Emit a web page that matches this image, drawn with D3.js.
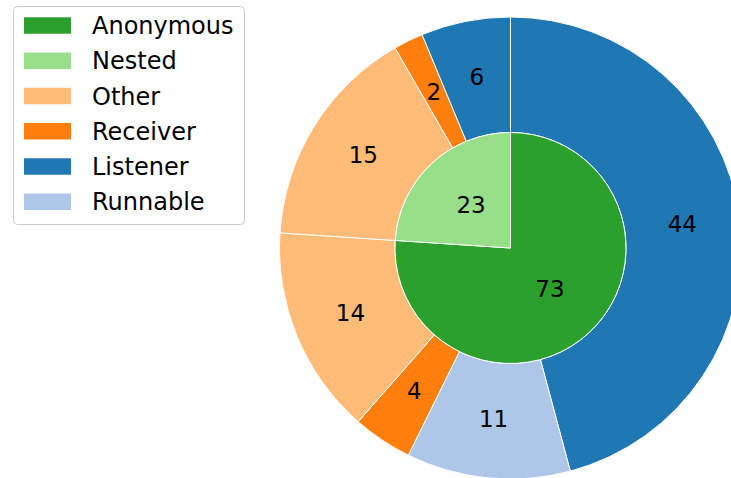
<!DOCTYPE html>
<html>
<head>
<meta charset="utf-8">
<script src="https://cdn.jsdelivr.net/npm/d3@7"></script>
<style>
html,body{margin:0;padding:0;background:#fff;}
svg{display:block;font-family:"DejaVu Sans",sans-serif;}
</style>
</head>
<body>
<svg id="chart" width="731" height="478"></svg>
<script>
const innerCategories = ["Anonymous", "Nested"];
const innerValues = [73, 23];
const outerCategories = ["Listener", "Runnable", "Receiver", "Other", "Other", "Receiver", "Listener"];
const outerValues = [44, 11, 4, 14, 15, 2, 6];
const legendLabels = ["Anonymous", "Nested", "Other", "Receiver", "Listener", "Runnable"];
const legendColors = ["#2ca02c", "#98df8a", "#ffbb78", "#ff7f0e", "#1f77b4", "#aec7e8"];

const color = d3.scaleOrdinal().domain(legendLabels).range(legendColors);

const svg = d3.select("#chart");
const cx = 510.5, cy = 248, R = 231;
const g = svg.append("g").attr("transform", `translate(${cx},${cy})`);

const pie = d3.pie().sort(null).value(d => d.v);

const innerData = pie(innerCategories.map((c, i) => ({c, v: innerValues[i]})));
const outerData = pie(outerCategories.map((c, i) => ({c, v: outerValues[i]})));

const innerArc = d3.arc().innerRadius(0).outerRadius(R * 0.5);
const outerArc = d3.arc().innerRadius(R * 0.5).outerRadius(R);
const innerLabelArc = d3.arc().innerRadius(R * 0.25).outerRadius(R * 0.25);
const outerLabelArc = d3.arc().innerRadius(R * 0.75).outerRadius(R * 0.75);

g.selectAll("path.outer").data(outerData).join("path")
  .attr("class", "outer")
  .attr("d", outerArc)
  .attr("fill", d => color(d.data.c))
  .attr("stroke", "#fff").attr("stroke-width", 1);

g.selectAll("path.inner").data(innerData).join("path")
  .attr("class", "inner")
  .attr("d", innerArc)
  .attr("fill", d => color(d.data.c))
  .attr("stroke", "#fff").attr("stroke-width", 1);

function labels(data, arc) {
  g.append("g").selectAll("text").data(data).join("text")
    .attr("transform", d => `translate(${arc.centroid(d)})`)
    .attr("text-anchor", "middle")
    .attr("dy", "0.3em")
    .attr("font-size", 23)
    .attr("fill", "#000")
    .text(d => d.data.v);
}
labels(outerData, outerLabelArc);
labels(innerData, innerLabelArc);

// legend
const fs = 23.5;
const lg = svg.append("g");
lg.append("rect").attr("x", 13.5).attr("y", 6.5).attr("width", 231).attr("height", 218)
  .attr("rx", 4).attr("fill", "#fff").attr("fill-opacity", 0.8)
  .attr("stroke", "#cccccc").attr("stroke-width", 1);
const rowY = d3.scaleLinear().domain([0, 1]).range([25.5, 25.5 + fs * 1.5]);
legendLabels.forEach((lab, i) => {
  const y = rowY(i);
  lg.append("rect").attr("x", 24).attr("y", y - fs * 0.35).attr("width", fs * 2).attr("height", fs * 0.7)
    .attr("fill", color(lab));
  lg.append("text").attr("x", 92).attr("y", y).attr("dy", "0.36em")
    .attr("font-size", 24).attr("fill", "#000").text(lab);
});
</script>
</body>
</html>
